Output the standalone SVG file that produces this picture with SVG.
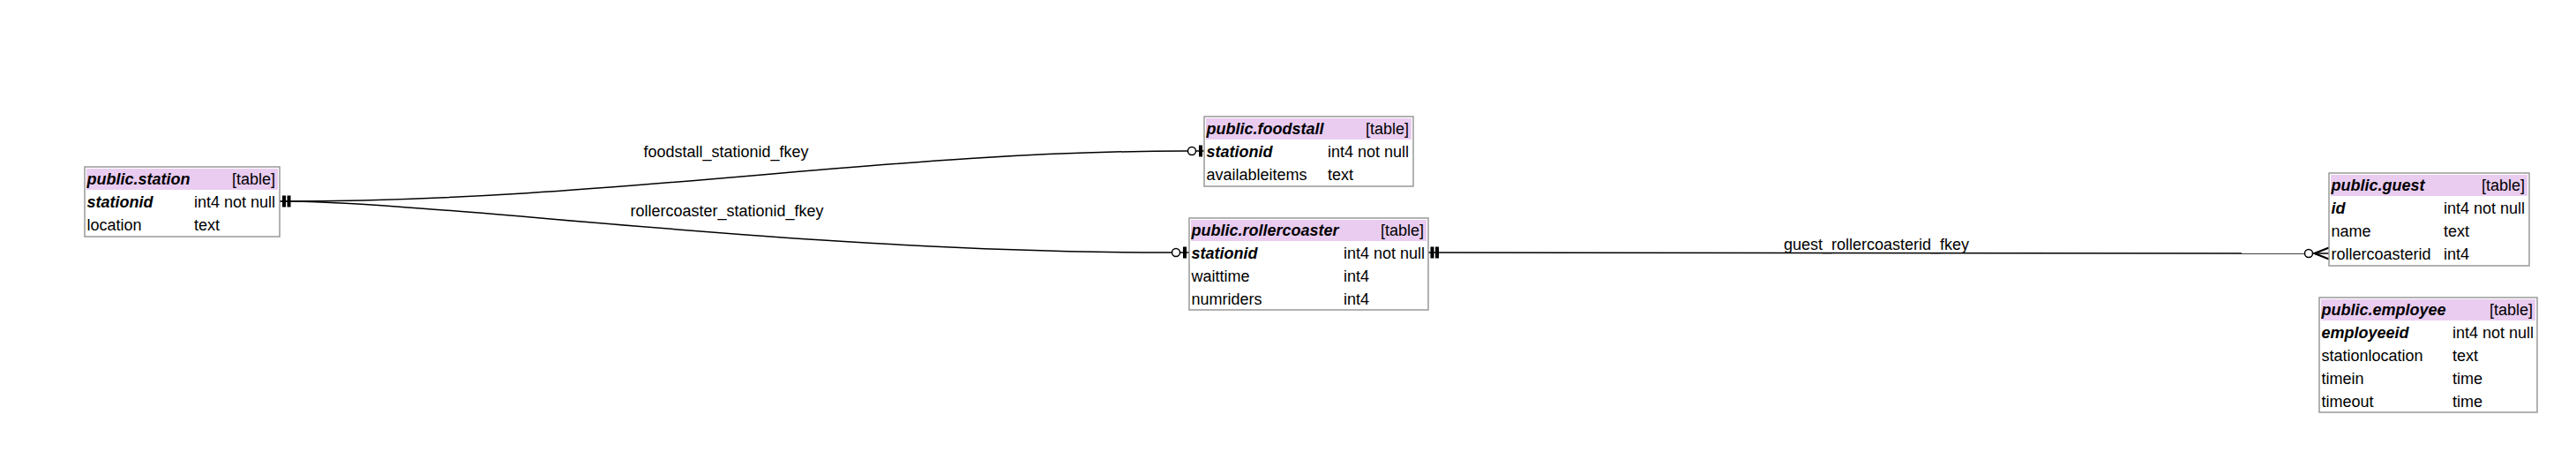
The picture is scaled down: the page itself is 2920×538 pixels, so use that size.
<svg xmlns="http://www.w3.org/2000/svg" width="2920" height="538" viewBox="0 0 2920 538">
<style>
text{font-family:"Liberation Sans",Arial,Helvetica,sans-serif;font-size:18px;fill:#000}
.box{fill:#fff;stroke:#999;stroke-width:1.5}
.hdr{fill:#e9ccf0}
.tn{font-weight:bold;font-style:italic}
.pk{font-weight:bold;font-style:italic}
.tag{text-anchor:end}
.edge{fill:none;stroke:#000;stroke-width:1.5}
.bar{fill:#000}
.circ{fill:#fff;stroke:#000;stroke-width:1.5}
.lbl{text-anchor:middle}
</style>
<rect width="2920" height="538" fill="#fff"/>
<g id="connectors">
  <!-- foodstall_stationid_fkey -->
  <path class="edge" d="M317,228 C700,228 1000,171 1346.5,171"/>
  <path class="edge" d="M1355.5,171 L1365,171"/>
  <rect class="bar" x="320" y="221.5" width="4" height="13"/>
  <rect class="bar" x="325.5" y="221.5" width="4" height="13"/>
  <circle class="circ" cx="1351" cy="171" r="4.5"/>
  <rect class="bar" x="1359" y="164.5" width="4" height="13"/>
  <text class="lbl" x="823" y="178">foodstall_stationid_fkey</text>
  <!-- rollercoaster_stationid_fkey -->
  <path class="edge" d="M317,228 C500,228 900,286 1328.5,286"/>
  <path class="edge" d="M1337.5,286 L1348,286"/>
  <circle class="circ" cx="1333" cy="286" r="4.5"/>
  <rect class="bar" x="1341" y="279.5" width="4" height="13"/>
  <text class="lbl" x="824" y="245">rollercoaster_stationid_fkey</text>
  <!-- guest_rollercoasterid_fkey -->
  <path class="edge" d="M1619,286 L2612.5,287"/>
  <rect class="bar" x="1621.5" y="279.5" width="4" height="13"/>
  <rect class="bar" x="1627" y="279.5" width="4" height="13"/>
  <circle class="circ" cx="2617" cy="287" r="4.5"/>
  <path class="edge" d="M2621.5,287 L2640,287"/>
  <polyline fill="none" stroke="#000" stroke-width="2.2" points="2640,280.5 2623.5,287 2640,293.5"/>
  <text class="lbl" x="2127" y="283">guest_rollercoasterid_fkey</text>
</g>
<g id="station">
  <rect class="box" x="96" y="189" width="221" height="79"/>
  <rect class="hdr" x="98" y="191" width="217" height="24"/>
  <text class="tn" x="98.5" y="208.5">public.station</text>
  <text class="tag" x="312" y="208.5">[table]</text>
  <text class="pk" x="98.5" y="234.5">stationid</text>
  <text x="220" y="234.5">int4 not null</text>
  <text x="98.5" y="260.5">location</text>
  <text x="220" y="260.5">text</text>
</g>
<g id="foodstall">
  <rect class="box" x="1365" y="132" width="237" height="79"/>
  <rect class="hdr" x="1367" y="134" width="233" height="24"/>
  <text class="tn" x="1367.5" y="151.5">public.foodstall</text>
  <text class="tag" x="1597" y="151.5">[table]</text>
  <text class="pk" x="1367.5" y="177.5">stationid</text>
  <text x="1505" y="177.5">int4 not null</text>
  <text x="1367.5" y="203.5">availableitems</text>
  <text x="1505" y="203.5">text</text>
</g>
<g id="rollercoaster">
  <rect class="box" x="1348" y="247" width="271" height="104"/>
  <rect class="hdr" x="1350" y="249" width="267" height="24"/>
  <text class="tn" x="1350.5" y="266.5">public.rollercoaster</text>
  <text class="tag" x="1614" y="266.5">[table]</text>
  <text class="pk" x="1350.5" y="292.5">stationid</text>
  <text x="1523" y="292.5">int4 not null</text>
  <text x="1350.5" y="318.5">waittime</text>
  <text x="1523" y="318.5">int4</text>
  <text x="1350.5" y="344.5">numriders</text>
  <text x="1523" y="344.5">int4</text>
</g>
<g id="guest">
  <rect class="box" x="2640" y="196" width="227" height="105"/>
  <rect class="hdr" x="2642" y="198" width="223" height="24"/>
  <text class="tn" x="2642.5" y="215.5">public.guest</text>
  <text class="tag" x="2862" y="215.5">[table]</text>
  <text class="pk" x="2642.5" y="241.5">id</text>
  <text x="2770" y="241.5">int4 not null</text>
  <text x="2642.5" y="267.5">name</text>
  <text x="2770" y="267.5">text</text>
  <text x="2642.5" y="293.5">rollercoasterid</text>
  <text x="2770" y="293.5">int4</text>
</g>
<g id="employee">
  <rect class="box" x="2629" y="337" width="247" height="130"/>
  <rect class="hdr" x="2631" y="339" width="243" height="24"/>
  <text class="tn" x="2631.5" y="356.5">public.employee</text>
  <text class="tag" x="2871" y="356.5">[table]</text>
  <text class="pk" x="2631.5" y="382.5">employeeid</text>
  <text x="2780" y="382.5">int4 not null</text>
  <text x="2631.5" y="408.5">stationlocation</text>
  <text x="2780" y="408.5">text</text>
  <text x="2631.5" y="434.5">timein</text>
  <text x="2780" y="434.5">time</text>
  <text x="2631.5" y="460.5">timeout</text>
  <text x="2780" y="460.5">time</text>
</g>
</svg>
